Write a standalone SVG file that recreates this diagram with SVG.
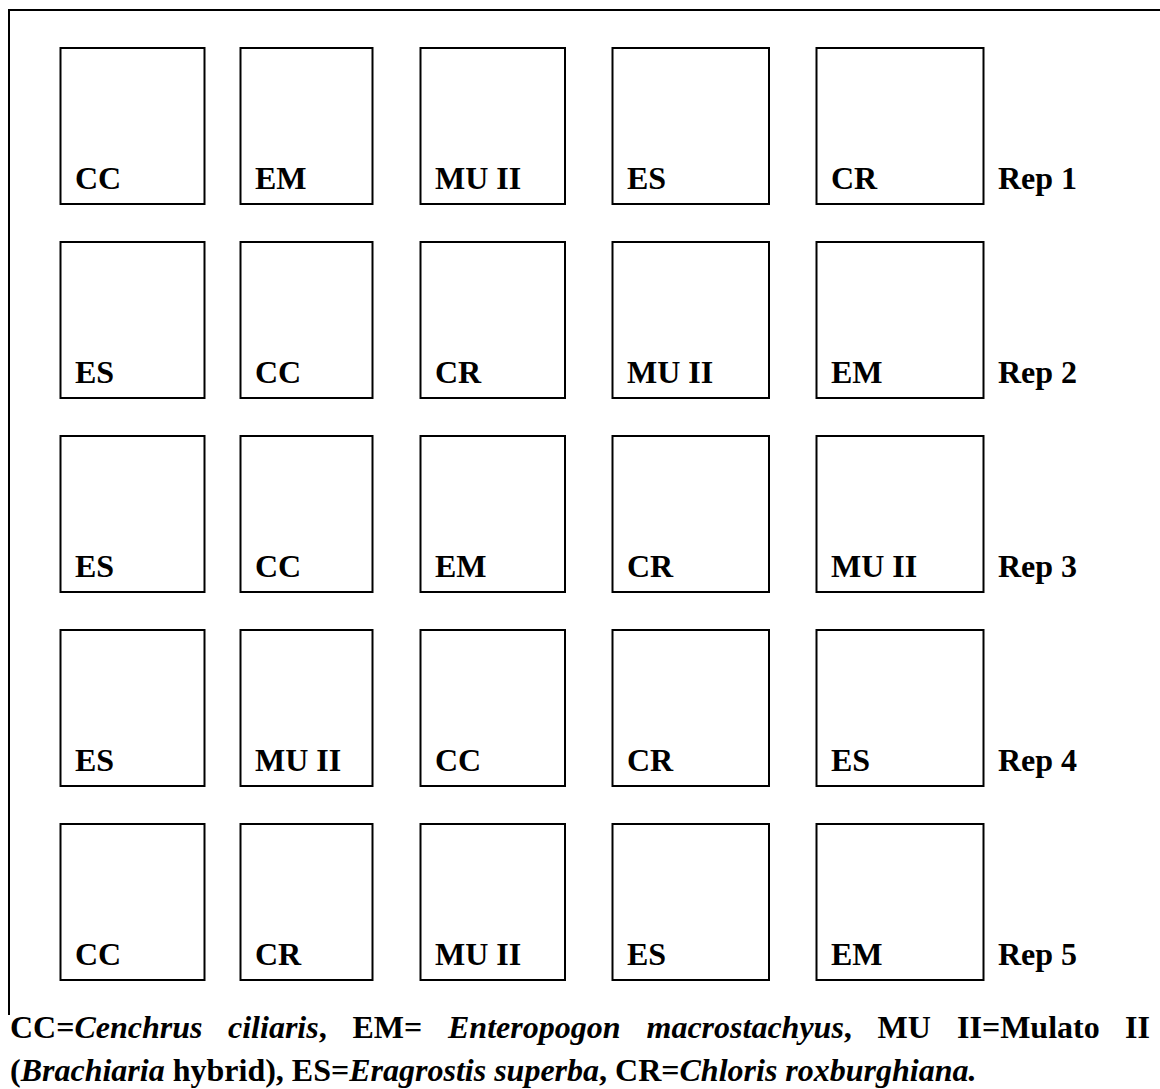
<svg xmlns="http://www.w3.org/2000/svg" width="1160" height="1089" viewBox="0 0 1160 1089">
<style>
.plot{fill:#fff;stroke:#000;stroke-width:2}
.frame{fill:none;stroke:#000;stroke-width:2}
text{font-family:"Liberation Serif","Times New Roman",serif;font-size:32px;font-weight:bold;fill:#000}
.i{font-style:italic}
</style>
<rect width="1160" height="1089" fill="#fff"/>
<g id="frame"><path class="frame" d="M9,1015 V10 H1160"/></g>
<g id="row1">
<g id="r1c1"><rect class="plot" x="60.5" y="48" width="144" height="156"/><text x="75" y="189">CC</text></g>
<g id="r1c2"><rect class="plot" x="240.5" y="48" width="132" height="156"/><text x="255" y="189">EM</text></g>
<g id="r1c3"><rect class="plot" x="420.5" y="48" width="144.5" height="156"/><text x="435" y="189">MU II</text></g>
<g id="r1c4"><rect class="plot" x="612.5" y="48" width="156.5" height="156"/><text x="627" y="189">ES</text></g>
<g id="r1c5"><rect class="plot" x="816.5" y="48" width="167" height="156"/><text x="831" y="189">CR</text></g>
<g id="rep1"><text x="998" y="189">Rep 1</text></g>
</g>
<g id="row2">
<g id="r2c1"><rect class="plot" x="60.5" y="242" width="144" height="156"/><text x="75" y="383">ES</text></g>
<g id="r2c2"><rect class="plot" x="240.5" y="242" width="132" height="156"/><text x="255" y="383">CC</text></g>
<g id="r2c3"><rect class="plot" x="420.5" y="242" width="144.5" height="156"/><text x="435" y="383">CR</text></g>
<g id="r2c4"><rect class="plot" x="612.5" y="242" width="156.5" height="156"/><text x="627" y="383">MU II</text></g>
<g id="r2c5"><rect class="plot" x="816.5" y="242" width="167" height="156"/><text x="831" y="383">EM</text></g>
<g id="rep2"><text x="998" y="383">Rep 2</text></g>
</g>
<g id="row3">
<g id="r3c1"><rect class="plot" x="60.5" y="436" width="144" height="156"/><text x="75" y="577">ES</text></g>
<g id="r3c2"><rect class="plot" x="240.5" y="436" width="132" height="156"/><text x="255" y="577">CC</text></g>
<g id="r3c3"><rect class="plot" x="420.5" y="436" width="144.5" height="156"/><text x="435" y="577">EM</text></g>
<g id="r3c4"><rect class="plot" x="612.5" y="436" width="156.5" height="156"/><text x="627" y="577">CR</text></g>
<g id="r3c5"><rect class="plot" x="816.5" y="436" width="167" height="156"/><text x="831" y="577">MU II</text></g>
<g id="rep3"><text x="998" y="577">Rep 3</text></g>
</g>
<g id="row4">
<g id="r4c1"><rect class="plot" x="60.5" y="630" width="144" height="156"/><text x="75" y="771">ES</text></g>
<g id="r4c2"><rect class="plot" x="240.5" y="630" width="132" height="156"/><text x="255" y="771">MU II</text></g>
<g id="r4c3"><rect class="plot" x="420.5" y="630" width="144.5" height="156"/><text x="435" y="771">CC</text></g>
<g id="r4c4"><rect class="plot" x="612.5" y="630" width="156.5" height="156"/><text x="627" y="771">CR</text></g>
<g id="r4c5"><rect class="plot" x="816.5" y="630" width="167" height="156"/><text x="831" y="771">ES</text></g>
<g id="rep4"><text x="998" y="771">Rep 4</text></g>
</g>
<g id="row5">
<g id="r5c1"><rect class="plot" x="60.5" y="824" width="144" height="156"/><text x="75" y="965">CC</text></g>
<g id="r5c2"><rect class="plot" x="240.5" y="824" width="132" height="156"/><text x="255" y="965">CR</text></g>
<g id="r5c3"><rect class="plot" x="420.5" y="824" width="144.5" height="156"/><text x="435" y="965">MU II</text></g>
<g id="r5c4"><rect class="plot" x="612.5" y="824" width="156.5" height="156"/><text x="627" y="965">ES</text></g>
<g id="r5c5"><rect class="plot" x="816.5" y="824" width="167" height="156"/><text x="831" y="965">EM</text></g>
<g id="rep5"><text x="998" y="965">Rep 5</text></g>
</g>
<g id="connectors"></g>
<g id="caption">
<text y="1038"><tspan x="10">CC=</tspan><tspan class="i">Cenchrus</tspan><tspan x="228" class="i">ciliaris</tspan><tspan>,</tspan><tspan x="352.5">EM=</tspan><tspan x="448" class="i">Enteropogon</tspan><tspan x="646.5" class="i">macrostachyus</tspan><tspan>,</tspan><tspan x="877.5">MU</tspan><tspan x="957">II=Mulato</tspan><tspan x="1125">II</tspan></text>
<text x="10" y="1081">(<tspan class="i">Brachiaria</tspan> hybrid), ES=<tspan class="i">Eragrostis superba</tspan>, CR=<tspan class="i">Chloris roxburghiana.</tspan></text>
</g>
</svg>
